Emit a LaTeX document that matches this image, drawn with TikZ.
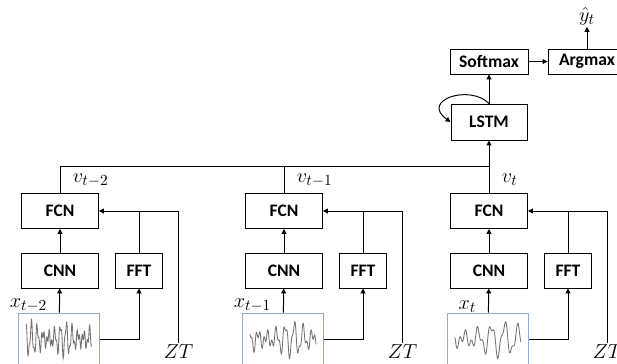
\documentclass[tikz,border=0pt]{standalone}
\usepackage{fontspec}
\setsansfont{Carlito}
\usetikzlibrary{arrows.meta}

\definecolor{sigblue}{RGB}{143,170,220}

\begin{document}
\begin{tikzpicture}[
    x=0.025cm, y=-0.025cm,
    >={Triangle[length=3.5pt,width=3.5pt]},
    line width=0.7pt,
    blk/.style={draw, inner sep=0pt, minimum width=1.925cm, minimum height=0.875cm,
        font=\sffamily\bfseries\fontsize{12.5}{14}\selectfont},
    fftbox/.style={minimum width=1.175cm},
    topbox/.style={minimum width=1.95cm, minimum height=0.625cm},
    lstmbox/.style={minimum width=1.9cm, minimum height=0.9cm},
    sigbox/.style={draw=sigblue, line width=0.6pt, minimum width=2.025cm, minimum height=1.3cm},
    lbl/.style={inner sep=1pt, font=\fontsize{15}{17}\selectfont}
]
\useasboundingbox (0,0) rectangle (617,363);

% One branch per time step
\foreach \c/\s/\n/\f in {60/t-2/1/62, 284/t-1/2/40, 489/t/3/27} {
    \node[blk] (fcn\n) at (\c,211) {FCN};
    \node[blk] (cnn\n) at (\c,270.5) {CNN};
    \node[blk, fftbox] (fft\n) at (\c+79,270.5) {FFT};
    \node[sigbox] (sig\n) at (\c-1,339) {};
    \node[lbl, anchor=west] (v\n) at (\c+11,180) {$v_{\s}$};
    \node[lbl, anchor=south east] (x\n) at (\c-11,314) {$x_{\s}$};
    \node[lbl] (zt\n) at (\c+118.5,352) {$ZT$};

    % input signal
    \draw[black!55, line width=0.6pt] plot[domain=-33:33, samples=260, smooth]
        ({\c-1+\x}, {339 - 15*sin(\f*\x)*(0.65+0.35*sin(0.17*\f*\x+30)) - 5*sin(2.3*\f*\x+40)});

    \draw[->] (sig\n) -- (cnn\n);
    \draw[->] (sig\n.east) -| (fft\n.south);
    \draw[->] (cnn\n) -- (fcn\n);
    \draw[->] (fft\n.north) |- (fcn\n.east);
    \draw (zt\n.north) |- (fft\n.north |- fcn\n.east);
}

% Sequence model on top
\node[blk, lstmbox] (lstm) at (489,122) {LSTM};
\node[blk, topbox] (soft) at (489,61.5) {Softmax};
\node[blk, topbox] (arg) at (587,61.5) {Argmax};
\node[lbl] (yhat) at (587,16) {$\hat{y}_t$};

\coordinate (bus) at (489,166);
\draw (fcn1.north) |- (bus);
\draw (fcn2.north) -- (fcn2.north |- bus);
\draw[->] (fcn3) -- (lstm);

\draw[->] (lstm) -- (soft);
\draw[->] (soft) -- (arg);
\draw[->] (arg) -- (yhat);
\draw[->] (lstm.north) .. controls (470,84) and (420,100) .. (lstm.west);

\end{tikzpicture}
\end{document}
